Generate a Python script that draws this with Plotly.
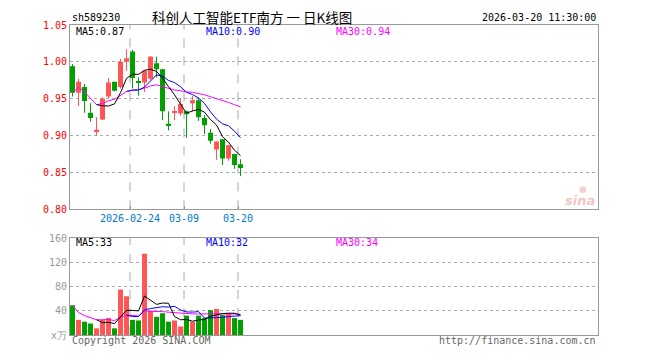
import numpy as np
import pandas as pd
import plotly.graph_objects as go

# ---------------- data ----------------
dates = ["2026-02-02", "2026-02-03", "2026-02-04", "2026-02-05", "2026-02-06",
         "2026-02-09", "2026-02-10", "2026-02-11", "2026-02-12", "2026-02-13",
         "2026-02-24", "2026-02-25", "2026-02-26", "2026-02-27", "2026-03-02",
         "2026-03-03", "2026-03-04", "2026-03-05", "2026-03-06", "2026-03-09",
         "2026-03-10", "2026-03-11", "2026-03-12", "2026-03-13", "2026-03-16",
         "2026-03-17", "2026-03-18", "2026-03-19", "2026-03-20"]
opens = [0.994, 0.958, 0.966, 0.931, 0.905, 0.922, 0.953, 0.973, 0.966, 1.000,
         1.014, 0.973, 0.972, 0.977, 0.998, 0.990, 0.916, 0.932, 0.930, 0.933,
         0.944, 0.948, 0.924, 0.904, 0.881, 0.895, 0.869, 0.875, 0.861]
closes = [0.958, 0.973, 0.947, 0.924, 0.908, 0.950, 0.972, 0.961, 1.000, 1.005,
          0.978, 0.972, 0.988, 1.007, 0.990, 0.933, 0.914, 0.933, 0.943, 0.929,
          0.948, 0.925, 0.914, 0.893, 0.892, 0.869, 0.887, 0.860, 0.856]
highs = [0.997, 0.977, 0.970, 0.944, 0.925, 0.952, 0.978, 0.973, 1.004, 1.017,
         1.016, 0.979, 0.989, 1.008, 1.007, 0.990, 0.933, 0.940, 0.951, 0.934,
         0.954, 0.951, 0.928, 0.909, 0.892, 0.895, 0.887, 0.875, 0.868]
lows = [0.953, 0.940, 0.931, 0.919, 0.900, 0.921, 0.951, 0.960, 0.964, 0.988,
        0.964, 0.954, 0.959, 0.975, 0.979, 0.921, 0.907, 0.921, 0.927, 0.897,
        0.933, 0.920, 0.902, 0.889, 0.867, 0.860, 0.866, 0.855, 0.845]
volumes = [49, 25, 22, 19, 11, 25, 28, 11, 75, 64,
           25, 24, 134, 40, 30, 36, 22, 24, 14, 32,
           22, 32, 28, 41, 43, 33, 35, 28, 25]

tick_dates = ["2026-02-24", "2026-03-09", "2026-03-20"]
tick_text = ["2026-02-24", "03-09", "03-20"]
price_ticks = [0.80, 0.85, 0.90, 0.95, 1.00, 1.05]
vol_ticks = [0, 40, 80, 120, 160]
vol_tick_text = ["x万", "40", "80", "120", "160"]

code = "sh589230"
title = "科创人工智能ETF南方 一 日K线图"
stamp = "2026-03-20 11:30:00"

# ---------------- derived ----------------
n = len(dates)
idx = np.arange(n)
c = pd.Series(closes)
v = pd.Series(volumes)
ma5 = c.rolling(5).mean()
ma10 = c.rolling(10).mean()
ma30 = c.rolling(30, min_periods=1).mean()
vma5 = v.rolling(5).mean()
vma10 = v.rolling(10).mean()
vma30 = v.rolling(30, min_periods=1).mean()

RED = "#FF5555"
GREEN = "#00A000"
up = [cl >= op for op, cl in zip(opens, closes)]
colors = [RED if u else GREEN for u in up]

SLOTS = 88
OFF = 0.42
xr = [-OFF, SLOTS - OFF]
tick_idx = [dates.index(d) for d in tick_dates]

FONT = "DejaVu Sans Mono"
fig = go.Figure()

# wicks
for col, flag in ((RED, True), (GREEN, False)):
    wx, wy = [], []
    for i in range(n):
        if up[i] == flag:
            wx += [i, i, None]
            wy += [lows[i], highs[i], None]
    fig.add_trace(go.Scatter(x=wx, y=wy, mode="lines", line=dict(color=col, width=1),
                             hoverinfo="skip", showlegend=False, xaxis="x", yaxis="y"))

# bodies
body_base = [min(o, cl) for o, cl in zip(opens, closes)]
body_h = [max(abs(cl - o), 0.0015) for o, cl in zip(opens, closes)]
fig.add_trace(go.Bar(x=idx, y=body_h, base=body_base, width=0.83,
                     marker=dict(color=colors, line=dict(width=0)),
                     showlegend=False, xaxis="x", yaxis="y"))

# price MAs
for s, col in ((ma30, "#FF00FF"), (ma10, "#0000FF"), (ma5, "#000000")):
    fig.add_trace(go.Scatter(x=idx, y=s, mode="lines", line=dict(color=col, width=1),
                             showlegend=False, xaxis="x", yaxis="y"))

# volume
fig.add_trace(go.Bar(x=idx, y=volumes, width=0.83,
                     marker=dict(color=colors, line=dict(width=0)),
                     showlegend=False, xaxis="x2", yaxis="y2"))
for s, col in ((vma30, "#FF00FF"), (vma10, "#0000FF"), (vma5, "#000000")):
    fig.add_trace(go.Scatter(x=idx, y=s, mode="lines", line=dict(color=col, width=1),
                             showlegend=False, xaxis="x2", yaxis="y2"))

# layout geometry (page body has an 8px margin, so figure is 644x344)
FW, FH = 644, 344
SH = 8
ML = 70 - SH
MR = FW - (598 - SH)
MT = 21 - SH
MB = FH - (341 - SH)
PH = FH - MT - MB
PW = FW - ML - MR
price_bottom = (341 - 211.3) / PH
vol_top = (341 - 241) / PH

fig.update_layout(
    width=FW, height=FH,
    margin=dict(l=ML, r=MR, t=MT, b=MB),
    paper_bgcolor="white", plot_bgcolor="white",
    barmode="overlay",
    font=dict(family=FONT, size=10, color="#000"),
    xaxis=dict(domain=[0, 1], range=xr, anchor="y", showgrid=False, zeroline=False,
               showline=True, mirror=True, linecolor="#999", linewidth=1,
               tickvals=[i - OFF for i in tick_idx], ticktext=tick_text,
               ticks="inside", ticklen=3, tickcolor="#999",
               tickfont=dict(family=FONT, size=10, color="#0078D0")),
    yaxis=dict(domain=[price_bottom, 1], range=[0.80, 1.05], showgrid=True,
               gridcolor="#AAAAAA", griddash="dot", gridwidth=1, zeroline=False,
               showline=True, mirror=True, linecolor="#999", linewidth=1,
               tickvals=price_ticks, ticktext=[f"{t:.2f}" for t in price_ticks],
               ticks="", tickfont=dict(family=FONT, size=10, color="#FF0000")),
    xaxis2=dict(domain=[0, 1], range=xr, anchor="y2", showgrid=False, zeroline=False,
                showline=True, mirror=True, linecolor="#999", linewidth=1,
                showticklabels=False, ticks=""),
    yaxis2=dict(domain=[0, vol_top], range=[0, 160], showgrid=True,
                gridcolor="#AAAAAA", griddash="dot", gridwidth=1, zeroline=False,
                showline=True, mirror=True, linecolor="#999", linewidth=1,
                tickvals=vol_ticks, ticktext=vol_tick_text, ticks="",
                tickfont=dict(family=FONT, size=10, color="#999999")),
)

shapes = []
for i in tick_idx:
    shapes.append(dict(type="line", xref="x", yref="y domain", x0=i - OFF, x1=i - OFF,
                       y0=0, y1=1, line=dict(color="#AAAAAA", width=1, dash="dash"), layer="below"))
    shapes.append(dict(type="line", xref="x2", yref="y2 domain", x0=i - OFF, x1=i - OFF,
                       y0=0, y1=1, line=dict(color="#AAAAAA", width=1, dash="dash"), layer="below"))
fig.update_layout(shapes=shapes)


def py(pix):
    return (341 - pix) / PH


def px(pix):
    return (pix - 70) / PW


ann = []
ann.append(dict(text=code, x=0, y=py(13), xanchor="left", yanchor="middle",
                font=dict(family=FONT, size=10, color="#000")))
ann.append(dict(text=title, x=px(252), y=py(12.5), xanchor="center", yanchor="middle",
                font=dict(family="Noto Sans CJK SC", size=13.5, color="#000")))
ann.append(dict(text=stamp, x=1, y=py(13), xanchor="right", yanchor="middle",
                font=dict(family=FONT, size=10, color="#000")))
ann.append(dict(text=f"MA5:{ma5.iloc[-1]:.2f}", x=px(74), y=py(27.5), xanchor="left", yanchor="middle",
                font=dict(family=FONT, size=10, color="#000")))
ann.append(dict(text=f"MA10:{ma10.iloc[-1]:.2f}", x=px(204), y=py(27.5), xanchor="left", yanchor="middle",
                font=dict(family=FONT, size=10, color="#0000FF")))
ann.append(dict(text=f"MA30:{ma30.iloc[-1]:.2f}", x=px(334), y=py(27.5), xanchor="left", yanchor="middle",
                font=dict(family=FONT, size=10, color="#FF00FF")))
ann.append(dict(text=f"MA5:{vma5.iloc[-1]:.0f}", x=px(74), y=py(246), xanchor="left", yanchor="middle",
                font=dict(family=FONT, size=10, color="#000")))
ann.append(dict(text=f"MA10:{vma10.iloc[-1]:.0f}", x=px(204), y=py(246), xanchor="left", yanchor="middle",
                font=dict(family=FONT, size=10, color="#0000FF")))
ann.append(dict(text=f"MA30:{vma30.iloc[-1]:.0f}", x=px(334), y=py(246), xanchor="left", yanchor="middle",
                font=dict(family=FONT, size=10, color="#FF00FF")))
ann.append(dict(text="Copyright 2026 SINA.COM", x=0, y=py(346.5), xanchor="left", yanchor="middle",
                font=dict(family=FONT, size=10, color="#666666")))
ann.append(dict(text="http://finance.sina.com.cn", x=1, y=py(346.5), xanchor="right", yanchor="middle",
                font=dict(family=FONT, size=10, color="#666666")))
ann.append(dict(text="<b><i>sina</i></b>", x=px(597), y=py(202), xanchor="right", yanchor="middle",
                font=dict(family="DejaVu Sans", size=13, color="rgba(230,120,120,0.45)")))
ann.append(dict(text="●", x=px(583), y=py(190), xanchor="center", yanchor="middle",
                font=dict(family="DejaVu Sans", size=9, color="rgba(230,120,120,0.35)")))
for a in ann:
    a.update(xref="paper", yref="paper", showarrow=False)
fig.update_layout(annotations=ann)

fig.write_html("out.html")
